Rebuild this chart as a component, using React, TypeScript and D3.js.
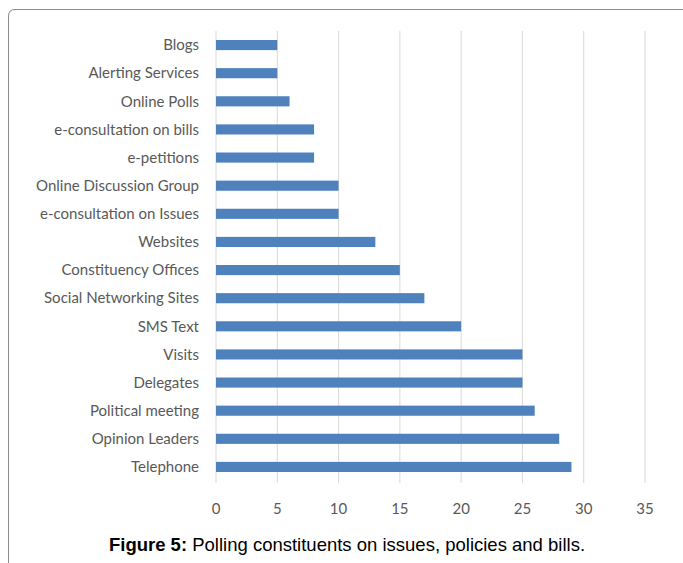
import React from "react";
import * as d3 from "d3";

const categories = [
  "Blogs",
  "Alerting Services",
  "Online Polls",
  "e-consultation on bills",
  "e-petitions",
  "Online Discussion Group",
  "e-consultation on Issues",
  "Websites",
  "Constituency Offices",
  "Social Networking Sites",
  "SMS Text",
  "Visits",
  "Delegates",
  "Political meeting",
  "Opinion Leaders",
  "Telephone",
];
const values = [5, 5, 6, 8, 8, 10, 10, 13, 15, 17, 20, 25, 25, 26, 28, 29];
const xTicks = [0, 5, 10, 15, 20, 25, 30, 35];

export default function App() {
  const W = 683;
  const H = 563;
  const x = d3.scaleLinear().domain([0, 35]).range([216, 645]);
  const y = d3.scaleBand<string>().domain(categories).range([31, 481]).paddingInner(0.64).paddingOuter(0.32);
  const labelFont = "Lato, 'Open Sans', sans-serif";
  return (
    <svg width={W} height={H} style={{ position: "absolute", left: 0, top: 0 }}>
      <rect x={0} y={0} width={W} height={H} fill="#fff" />
      <path
        d={`M8.5,${H + 5} L8.5,16 Q8.5,9.5 15,9.5 L${W + 5},9.5`}
        fill="none"
        stroke="#8c8c8c"
        strokeWidth={1}
      />
      {xTicks.map((t) => (
        <line key={t} x1={x(t)} x2={x(t)} y1={31} y2={483} stroke="#d9d9d9" strokeWidth={1} />
      ))}
      {categories.map((c, i) => (
        <rect
          key={c}
          x={x(0)}
          y={y(c)}
          width={x(values[i]) - x(0)}
          height={y.bandwidth()}
          fill="#4f81bd"
        />
      ))}
      {categories.map((c) => (
        <text
          key={c}
          x={199}
          y={(y(c) as number) + y.bandwidth() / 2}
          dy="0.35em"
          textAnchor="end"
          fontFamily={labelFont}
          fontSize={15}
          fill="#595959"
        >
          {c}
        </text>
      ))}
      {xTicks.map((t) => (
        <text
          key={t}
          x={x(t)}
          y={509}
          dy="0.35em"
          textAnchor="middle"
          fontFamily={labelFont}
          fontSize={15}
          fill="#595959"
        >
          {t}
        </text>
      ))}
      <text
        x={347}
        y={545}
        dy="0.35em"
        textAnchor="middle"
        fontFamily="'Liberation Sans', Arial, sans-serif"
        fontSize={18.5}
        fill="#000"
      >
        <tspan fontWeight="bold">Figure 5:</tspan> Polling constituents on issues, policies and bills.
      </text>
    </svg>
  );
}
